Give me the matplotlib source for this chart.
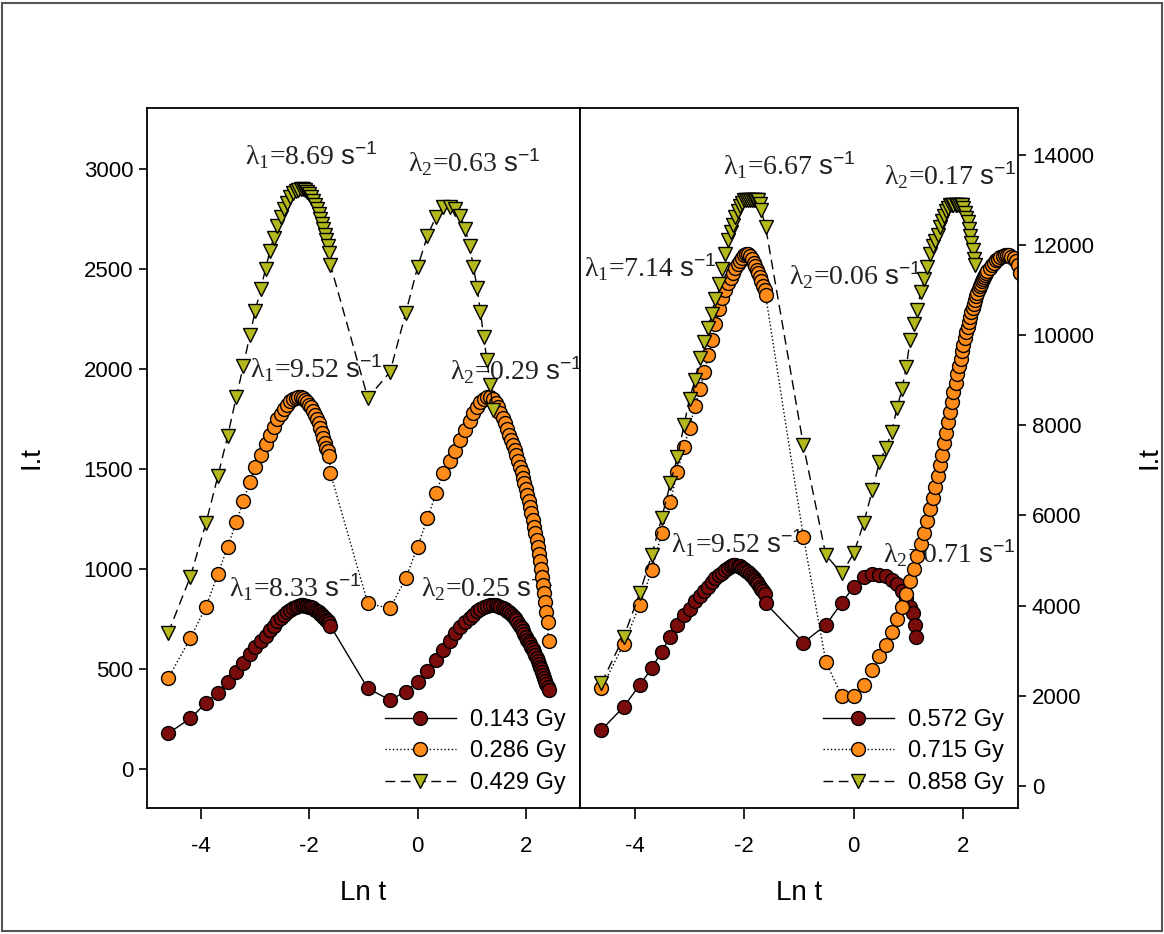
import matplotlib
matplotlib.use("Agg")
import matplotlib.pyplot as plt
from matplotlib.patches import Rectangle

plt.rcParams["font.family"] = ["Liberation Sans"]
plt.rcParams["axes.unicode_minus"] = False
plt.rcParams["mathtext.fontset"] = "custom"
plt.rcParams["mathtext.rm"] = "Liberation Serif"
plt.rcParams["mathtext.it"] = "Liberation Serif:italic"
plt.rcParams["mathtext.sf"] = "Liberation Sans"

# ln t sampling (fast channel 0.01-0.2 s, slow channel 0.4 s on)
lnt_fast = [-4.61, -4.20, -3.91, -3.69, -3.51, -3.35, -3.22, -3.10, -3.00, -2.90,
            -2.81, -2.73, -2.66, -2.59, -2.53, -2.47, -2.41, -2.35, -2.30, -2.25,
            -2.21, -2.16, -2.12, -2.08, -2.04, -2.00, -1.97, -1.93, -1.90, -1.86,
            -1.83, -1.80, -1.77, -1.74, -1.71, -1.69, -1.66, -1.63, -1.61]
lnt_slow = [-0.92, -0.51, -0.22, 0.00, 0.18, 0.34, 0.47, 0.59, 0.69, 0.79,
            0.88, 0.96, 1.03, 1.10, 1.16, 1.22, 1.28, 1.34, 1.39, 1.44,
            1.48, 1.53, 1.57, 1.61, 1.65, 1.69, 1.72, 1.76, 1.79, 1.82,
            1.86, 1.89, 1.92, 1.95, 1.97, 2.00, 2.03, 2.05, 2.08, 2.10,
            2.13, 2.15, 2.17, 2.20, 2.22, 2.24, 2.26, 2.28, 2.30, 2.32,
            2.34, 2.36, 2.38, 2.40, 2.42]
lnt_tail = [2.44, 2.48, 2.52, 2.56, 2.60, 2.64, 2.68, 2.72, 2.76, 2.80,
            2.84, 2.88, 2.92, 2.96, 3.00, 3.03]

# left panel: 0.143 Gy
d143_fast = [178, 253, 330, 382, 437, 487, 530, 575, 608, 640,
             665, 695, 717, 740, 755, 770, 785, 797, 806, 812,
             816, 818, 818, 817, 815, 812, 808, 803, 797, 791,
             784, 777, 770, 762, 754, 746, 738, 728, 715]
d143_slow = [403, 345, 387, 437, 492, 545, 595, 640, 678, 708,
             735, 755, 772, 788, 800, 809, 815, 818, 819, 818,
             816, 812, 806, 800, 792, 783, 775, 765, 755, 744,
             730, 717, 703, 690, 677, 662, 647, 636, 625, 612,
             598, 583, 568, 553, 540, 525, 512, 498, 484, 470,
             455, 440, 425, 410, 395]
# left panel: 0.286 Gy
d286_fast = [453, 653, 812, 975, 1110, 1235, 1340, 1435, 1510, 1570,
             1625, 1672, 1712, 1748, 1776, 1800, 1820, 1838, 1850, 1857,
             1860, 1858, 1853, 1845, 1835, 1822, 1808, 1790, 1772, 1750,
             1728, 1705, 1680, 1655, 1628, 1605, 1588, 1565, 1478]
d286_slow = [828, 803, 953, 1112, 1253, 1378, 1480, 1540, 1590, 1645,
             1695, 1740, 1778, 1810, 1835, 1852, 1862, 1862, 1850, 1832,
             1810, 1780, 1755, 1728, 1700, 1672, 1645, 1620, 1595, 1568,
             1540, 1512, 1485, 1455, 1428, 1400, 1370, 1340, 1310, 1280,
             1245, 1210, 1178, 1145, 1112, 1075, 1040, 1000, 960, 920,
             878, 835, 785, 735, 640]
# left panel: 0.429 Gy
d429_fast = [680, 960, 1230, 1465, 1665, 1860, 2015, 2170, 2290, 2400,
             2500, 2590, 2655, 2715, 2760, 2800, 2832, 2860, 2878, 2890,
             2897, 2900, 2898, 2893, 2885, 2873, 2858, 2840, 2820, 2798,
             2775, 2750, 2725, 2700, 2672, 2645, 2615, 2580, 2520]
d429_slow = [1855, 1985, 2280, 2510, 2665, 2762, 2808, 2812, 2800, 2765,
             2700, 2615, 2512, 2405, 2287, 2162, 2045, 1920, 1795]

# right panel: 0.572 Gy
d572_fast = [1240, 1758, 2239, 2609, 2978, 3310, 3569, 3791, 3930, 4100,
             4220, 4320, 4420, 4530, 4610, 4670, 4720, 4780, 4830, 4870,
             4895, 4900, 4890, 4870, 4845, 4810, 4775, 4735, 4695, 4650,
             4610, 4565, 4520, 4470, 4420, 4370, 4320, 4260, 4050]
lnt_572_slow = [-0.92, -0.51, -0.22, 0.00, 0.18, 0.34, 0.47, 0.59, 0.69, 0.79,
                0.88, 0.96, 1.03, 1.08, 1.12, 1.13]
d572_slow = [3180, 3569, 4060, 4419, 4630, 4710, 4690, 4650, 4560, 4470,
             4330, 4180, 3975, 3829, 3569, 3310]
# right panel: 0.715 Gy
d715_fast = [2165, 3148, 4013, 4780, 5600, 6300, 6968, 7520, 7950, 8420,
             8800, 9180, 9550, 9900, 10250, 10570, 10820, 11010, 11150, 11270,
             11380, 11480, 11570, 11650, 11720, 11770, 11800, 11790, 11760, 11700,
             11610, 11530, 11450, 11370, 11290, 11200, 11100, 11000, 10886]
d715_slow = [5527, 2756, 1995, 1995, 2239, 2572, 2880, 3130, 3420, 3700,
             3980, 4260, 4540, 4820, 5090, 5360, 5620, 5880, 6140, 6390,
             6640, 6880, 7120, 7350, 7600, 7840, 8070, 8300, 8520, 8730,
             8940, 9130, 9310, 9480, 9640, 9790, 9930, 10060, 10180, 10300,
             10410, 10510, 10610, 10700, 10790, 10870, 10945, 11015, 11080, 11140,
             11195, 11245, 11290, 11330, 11370]
d715_tail = [11420, 11490, 11550, 11610, 11660, 11700, 11735, 11760, 11775, 11780,
             11770, 11745, 11705, 11650, 11560, 11370]
# right panel: 0.858 Gy
lnt_858_fast = lnt_fast[:36] + [-1.61]
d858_fast = [2277, 3310, 4272, 5121, 5935, 6711, 7300, 8003, 8595, 9000,
             9500, 9850, 10150, 10480, 10800, 11140, 11478, 11810, 12105, 12300,
             12450, 12622, 12760, 12860, 12940, 12990, 12990, 12990, 12990, 12990,
             12990, 12990, 12990, 12990, 12900, 12770, 12400]
d858_slow = [7560, 5121, 4715, 5159, 5824, 6562, 7190, 7500, 7850, 8380,
             8800, 9300, 9900, 10250, 10550, 10950, 11250, 11520, 11810, 11980,
             12100, 12230, 12400, 12530, 12650, 12750, 12830, 12880, 12880, 12880,
             12880, 12880, 12880, 12880, 12880, 12820, 12720, 12600, 12500, 12350,
             12200, 12050, 11900, 11700, 11551]

left_series = [
    ("0.143 Gy", lnt_fast + lnt_slow, d143_fast + d143_slow, "o", "#7a0c0c", "-"),
    ("0.286 Gy", lnt_fast + lnt_slow, d286_fast + d286_slow, "o", "#ff8c1a", ":"),
    ("0.429 Gy", lnt_fast + lnt_slow[:19], d429_fast + d429_slow, "v", "#b3b81c", (0, (7, 4))),
]
right_series = [
    ("0.572 Gy", lnt_fast + lnt_572_slow, d572_fast + d572_slow, "o", "#7a0c0c", "-"),
    ("0.715 Gy", lnt_fast + lnt_slow + lnt_tail, d715_fast + d715_slow + d715_tail, "o", "#ff8c1a", ":"),
    ("0.858 Gy", lnt_858_fast + lnt_slow[:45], d858_fast + d858_slow, "v", "#b3b81c", (0, (7, 4))),
]

left_notes = [(-3.19, 3020, "8.69", "1"), (-0.18, 2985, "0.63", "2"),
              (-3.10, 1955, "9.52", "1"), (0.60, 1945, "0.29", "2"),
              (-3.49, 860, "8.33", "1"), (0.06, 860, "0.25", "2")]
right_notes = [(-2.39, 13546, "6.67", "1"), (0.55, 13324, "0.17", "2"),
               (-4.93, 11284, "7.14", "1"), (-1.19, 11107, "0.06", "2"),
               (-3.33, 5166, "9.52", "1"), (0.53, 4944, "0.71", "2")]

fig = plt.figure(figsize=(11.64, 9.34), dpi=100)
ax1 = fig.add_axes([147 / 1164, 1 - 808 / 934, 433 / 1164, 700 / 934])
ax2 = fig.add_axes([580 / 1164, 1 - 808 / 934, 438 / 1164, 700 / 934])


def draw_panel(ax, series, notes):
    for label, x, y, mk, col, ls in series:
        ax.plot(x, y, linestyle=ls, color="black", lw=1.0, marker=mk,
                markerfacecolor=col, markeredgecolor="black", markeredgewidth=1.0,
                markersize=10, label=label)
    for x, y, val, idx in notes:
        ax.text(x, y, "\u03bb$_{%s}$=%s $\\mathsf{s^{-1}}$" % (idx, val),
                family="Liberation Serif", fontsize=20, color="#222222",
                ha="left", va="baseline", zorder=1)
    ax.set_xlim(-5, 3)
    ax.set_xticks([-4, -2, 0, 2])
    ax.tick_params(axis="x", direction="out", length=8, width=1.2, pad=12, labelsize=16)
    ax.tick_params(axis="y", direction="out", length=6, width=1.2, pad=4, labelsize=16)
    for sp in ax.spines.values():
        sp.set_linewidth(1.3)
    ax.set_xlabel("Ln t", fontsize=20)
    ax.xaxis.set_label_coords(0.5, -0.103)
    ax.legend(loc="lower right", frameon=False, fontsize=17, handlelength=3.0,
              handletextpad=0.6, labelspacing=0.4, borderaxespad=0.2, numpoints=1)


draw_panel(ax1, left_series, left_notes)
ax1.set_ylim(-195, 3305)
ax1.set_yticks(range(0, 3001, 500))
ax1.set_ylabel("I.t", fontsize=20)
ax1.yaxis.set_label_coords(-0.236, 0.5)

draw_panel(ax2, right_series, right_notes)
ax2.set_ylim(-490, 15040)
ax2.set_yticks(range(0, 14001, 2000))
ax2.yaxis.tick_right()
ax2.yaxis.set_label_position("right")
ax2.set_ylabel("I.t", fontsize=20, rotation=90)
ax2.yaxis.set_label_coords(1.27, 0.5)

fig.add_artist(Rectangle((2 / 1164, 3 / 934), 1160 / 1164, 928 / 934,
                         transform=fig.transFigure, fill=False,
                         edgecolor="#555555", lw=1.5))

fig.savefig("out.png", dpi=100)
